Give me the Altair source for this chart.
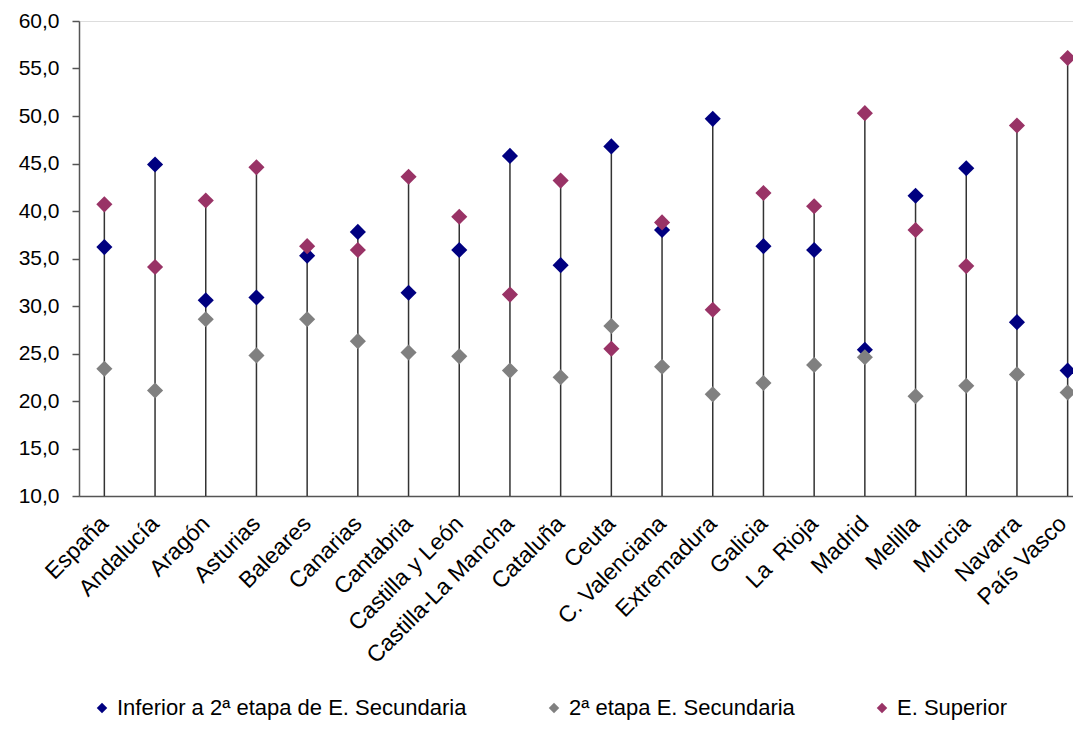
import altair as alt
import pandas as pd

regions = ["España", "Andalucía", "Aragón", "Asturias", "Baleares", "Canarias",
           "Cantabria", "Castilla y León", "Castilla-La Mancha", "Cataluña", "Ceuta",
           "C. Valenciana", "Extremadura", "Galicia", "La\u00a0 Rioja", "Madrid",
           "Melilla", "Murcia", "Navarra", "País Vasco"]
inferior = [36.2, 44.9, 30.6, 30.9, 35.3, 37.8, 31.4, 35.9, 45.8, 34.3,
            46.8, 38.0, 49.7, 36.3, 35.9, 25.4, 41.6, 44.5, 28.3, 23.2]
segunda = [23.4, 21.1, 28.6, 24.8, 28.6, 26.3, 25.1, 24.7, 23.2, 22.5,
           27.9, 23.6, 20.7, 21.9, 23.8, 24.6, 20.5, 21.6, 22.8, 20.9]
superior = [40.7, 34.1, 41.1, 44.6, 36.3, 35.9, 43.6, 39.4, 31.2, 43.2,
            25.5, 38.8, 29.6, 41.9, 40.5, 50.3, 38.0, 34.2, 49.0, 56.1]
series = ["Inferior a 2ª etapa de E. Secundaria", "2ª etapa E. Secundaria", "E. Superior"]
colors = ["#000080", "#808080", "#993366"]
y_ticks = [10, 15, 20, 25, 30, 35, 40, 45, 50, 55, 60]
y_min = 10

rows = []
for s, vals in zip(series, [inferior, segunda, superior]):
    for r, v in zip(regions, vals):
        rows.append({"region": r, "series": s, "value": v})
points_df = pd.DataFrame(rows)

stems_df = pd.DataFrame({
    "region": regions,
    "low": [y_min] * len(regions),
    "high": [max(a, b, c) for a, b, c in zip(inferior, segunda, superior)],
})

FONT = "Liberation Sans"
W = 994
H = 475

x_enc = alt.X(
    "region:N", sort=regions, title=None,
    scale=alt.Scale(type="point", range=[0, 1014], padding=0.5),
    axis=alt.Axis(labelAngle=-45, ticks=False, labelFont=FONT, labelFontSize=23,
                  labelColor="#000000", domainColor="#555555", domainWidth=1.5,
                  labelPadding=16,
                  labelOffset={"condition": {"test": "datum.value === 'País Vasco'", "value": -13},
                               "value": -8},
                  labelOverlap=False, labelLimit=400, grid=False),
)
y_scale = alt.Scale(domain=[10, 60], nice=False, zero=False)

stems = alt.Chart(stems_df).mark_rule(color="#333333", strokeWidth=1.5).encode(
    x=x_enc,
    y=alt.Y("low:Q", scale=y_scale, title=None,
            axis=alt.Axis(values=y_ticks, labelExpr="replace(format(datum.value, '.1f'), '.', ',')",
                          labelFont=FONT, labelFontSize=21, labelColor="#000000",
                          tickSize=7, tickColor="#555555", tickWidth=1.5,
                          domainColor="#555555", domainWidth=1.5, labelPadding=13, grid=False)),
    y2="high:Q",
)

pts = alt.Chart(points_df).mark_point(shape="diamond", filled=True, size=260, opacity=1).encode(
    x=x_enc,
    y=alt.Y("value:Q", scale=y_scale),
    color=alt.Color("series:N", sort=series,
                    scale=alt.Scale(domain=series, range=colors),
                    legend=alt.Legend(orient="none", legendX=12, legendY=676, direction="horizontal",
                                      title=None, symbolType="diamond", symbolSize=110,
                                      symbolStrokeWidth=0, labelFont=FONT, labelFontSize=22,
                                      labelColor="#000000", columnPadding=76, labelOffset=4,
                                      labelLimit=600)),
)

chart = alt.layer(stems, pts).properties(
    width=W, height=H,
    autosize=alt.AutoSizeParams(type="none"),
    padding={"left": 71, "top": 13, "right": 0, "bottom": 228},
).configure_view(stroke=None).configure(background="white")

chart.save("out.html", embed_options={"renderer": "svg", "actions": False})
